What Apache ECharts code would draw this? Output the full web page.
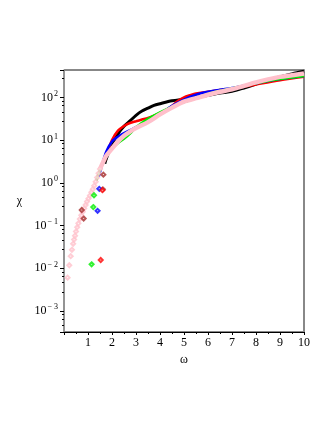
<!DOCTYPE html>
<html>
<head>
<meta charset="utf-8">
<script src="https://cdn.jsdelivr.net/npm/echarts@6/dist/echarts.min.js"></script>
<style>
  html, body { margin: 0; padding: 0; background: #fff; }
  #chart { width: 332px; height: 430px; }
</style>
</head>
<body>
<div id="chart"></div>
<script>
// values (omega, chi)
const blackW = [1.7, 1.75, 2.0, 2.25, 2.5, 2.75, 3.0, 3.25, 3.5, 3.75, 4.0, 4.5, 5.0, 5.5, 6.0, 6.5, 7.0, 7.5, 8.0, 8.5, 9.0, 9.5, 10];
const blackChi = [2.8, 3.5, 7.9, 14, 21, 28, 38, 48, 56, 65, 71, 83, 91, 100, 112, 126, 138, 166, 204, 257, 302, 355, 407];

const redW = [1.7, 1.75, 2.0, 2.25, 2.5, 2.75, 3.0, 3.25, 3.5, 3.75, 4.0, 4.25, 4.5, 4.75, 5.0, 5.25, 5.5, 6.0, 6.5, 7.0, 8.0, 9.0, 10];
const redChi = [3.2, 4.2, 10, 16.6, 21.4, 25.1, 27.5, 30.2, 33.1, 37.2, 42.7, 50, 63, 83, 100, 112, 123, 135, 148, 158, 200, 251, 302];

const blueW = [1.45, 1.5, 1.75, 2.0, 2.25, 2.5, 2.75, 3.0, 3.5, 4.0, 4.5, 5.0, 5.5, 6.0, 6.5, 7.0, 8.0, 9.0, 10];
const blueChi = [1.41, 1.78, 5.2, 9.3, 12, 14.5, 17, 20, 27, 40, 63, 89, 115, 135, 151, 166, 214, 269, 316];

const greenW = [1.35, 1.5, 1.75, 2.0, 2.25, 2.5, 2.75, 3.0, 3.5, 4.0, 4.5, 5.0, 5.5, 6.0, 6.5, 7.0, 8.0, 9.0, 10];
const greenChi = [1.12, 2.0, 4.2, 6.3, 8.5, 10.7, 14.1, 20, 31.6, 44.7, 60, 78, 95, 120, 141, 162, 214, 269, 316];

const pinkW = [1.5, 1.6, 1.75, 2.0, 2.25, 2.5, 2.75, 3.0, 3.5, 4.0, 4.5, 5.0, 5.5, 6.0, 6.5, 7.0, 7.5, 8.0, 8.5, 9.0, 9.5, 10];
const pinkChi = [2.09, 2.8, 4.2, 6.3, 9.3, 12.6, 15.8, 19.1, 26.3, 39.8, 57.5, 79.4, 95.5, 115, 135, 155, 186, 224, 263, 302, 331, 363];

const pinkLowW = [0.15, 0.22, 0.28, 0.33, 0.38, 0.42, 0.46, 0.5, 0.55, 0.6, 0.66, 0.72, 0.78, 0.84, 0.9, 0.96, 1.02, 1.08, 1.14, 1.2, 1.26, 1.32, 1.38, 1.44, 1.5];
const pinkLowChi = [0.006, 0.0117, 0.0191, 0.0269, 0.0372, 0.0468, 0.0575, 0.0724, 0.0912, 0.112, 0.141, 0.174, 0.209, 0.251, 0.302, 0.363, 0.427, 0.501, 0.603, 0.708, 0.851, 1.05, 1.32, 1.66, 2.09];

const darkRedW = [0.74, 0.82, 1.62, 1.64];
const darkRedChi = [0.23, 0.145, 0.7, 1.55];

// stray points
const greenPtW = [1.15, 1.22, 1.25];
const greenPtChi = [0.0123, 0.27, 0.51];
const bluePtW = [1.40, 1.47];
const bluePtChi = [0.22, 0.72];
const redPtW = [1.53, 1.6];
const redPtChi = [0.0155, 0.67];

const ticksX = [1, 2, 3, 4, 5, 6, 7, 8, 9, 10];

const zip = (w, c) => w.map((x, i) => [x, c[i]]);

const chart = echarts.init(document.getElementById('chart'));
const serif = '"Liberation Serif", "DejaVu Serif", serif';

const supDigits = { '-': '\u2212' };

function lineSeries(name, w, c, color, width) {
  return {
    name: name,
    type: 'line',
    data: zip(w, c),
    smooth: 0.3,
    showSymbol: false,
    lineStyle: { color: color, width: width },
    z: 2
  };
}

function dotSeries(name, w, c, color, size) {
  return {
    name: name,
    type: 'scatter',
    data: zip(w, c),
    symbol: 'emptyDiamond',
    symbolSize: size || 4,
    itemStyle: { color: color, borderWidth: 1.2 },
    z: 4
  };
}

const option = {
  animation: false,
  grid: {
    left: 64, right: 28, top: 70, bottom: 98,
    show: true, borderColor: '#111', borderWidth: 1
  },
  xAxis: {
    type: 'value',
    min: 0, max: 10, interval: 1,
    name: 'ω', nameLocation: 'middle', nameGap: 22,
    nameTextStyle: { fontFamily: serif, fontSize: 12, color: '#000' },
    axisLine: { lineStyle: { color: '#000', width: 1 } },
    axisTick: { show: true, length: 3, lineStyle: { color: '#000' } },
    minorTick: { show: true, splitNumber: 2, length: 2, lineStyle: { color: '#000' } },
    splitLine: { show: false },
    axisLabel: {
      fontFamily: serif, fontSize: 12, color: '#000', margin: 5,
      formatter: v => (ticksX.includes(v) ? String(v) : '')
    }
  },
  yAxis: [{
    type: 'log',
    logBase: 10,
    min: 0.00032, max: 437,
    name: 'χ', nameLocation: 'middle', nameRotate: 0, nameGap: 42,
    nameTextStyle: { fontFamily: serif, fontSize: 12, color: '#000' },
    axisLine: { show: true, lineStyle: { color: '#999', width: 1.5 } },
    axisTick: { show: true, length: 4, lineStyle: { color: '#000' } },
    minorTick: { show: true, splitNumber: 5, length: 2, lineStyle: { color: '#000' } },
    splitLine: { show: false },
    axisLabel: {
      showMinLabel: false, showMaxLabel: false, margin: 6,
      formatter: v => {
        const e = Math.round(Math.log10(v));
        if (Math.abs(Math.log10(v) - e) > 0.01) return '';
        const s = String(e).split('').map(ch => supDigits[ch] || ch).join(e < 0 ? ' ' : '');
        return '{b|10}{s|' + s + '}';
      },
      rich: {
        b: { fontFamily: serif, fontSize: 12, color: '#000' },
        s: { fontFamily: serif, fontSize: 8, color: '#000', padding: [0, 0, 7, 1] }
      }
    }
  }, {
    type: 'log',
    logBase: 10,
    min: 0.00032, max: 437,
    position: 'right',
    axisLine: { show: true, lineStyle: { color: '#888', width: 2 } },
    axisTick: { show: false },
    axisLabel: { show: false },
    splitLine: { show: false }
  }],
  series: [
    lineSeries('black', blackW, blackChi, '#000000', 3),
    lineSeries('red', redW, redChi, '#ff0000', 2.5),
    lineSeries('blue', blueW, blueChi, '#0000ff', 2.5),
    lineSeries('green', greenW, greenChi, '#00ee00', 2.5),
    lineSeries('pink', pinkW, pinkChi, '#ffc0cb', 4.5),
    dotSeries('pinkLow', pinkLowW, pinkLowChi, '#ffc0cb', 4),
    dotSeries('darkred', darkRedW, darkRedChi, '#a52a2a', 4),
    dotSeries('greenPts', greenPtW, greenPtChi, '#00ee00', 4),
    dotSeries('bluePts', bluePtW, bluePtChi, '#0000ff', 4),
    dotSeries('redPts', redPtW, redPtChi, '#ff0000', 4)
  ]
};

chart.setOption(option);
</script>
</body>
</html>
